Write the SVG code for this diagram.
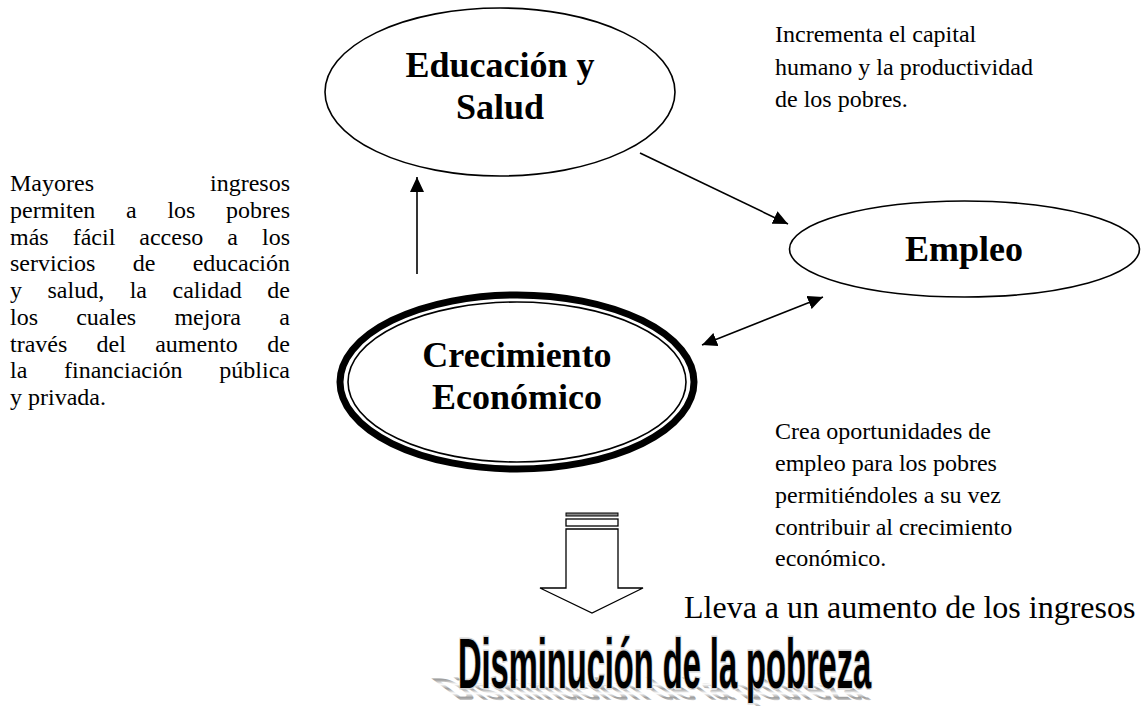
<svg xmlns="http://www.w3.org/2000/svg" xmlns:xlink="http://www.w3.org/1999/xlink" width="1141" height="706" viewBox="0 0 1141 706">
<style>
.body{font-family:"Liberation Serif","Times New Roman",serif;font-size:24px;fill:#000}
.head{font-family:"Liberation Serif","Times New Roman",serif;font-size:36px;font-weight:bold;fill:#000;text-anchor:middle}
.conn{stroke:#000;stroke-width:1.6;fill:none}
.title{font-family:"Liberation Sans Narrow","Liberation Sans","DejaVu Sans Condensed",sans-serif;font-weight:bold;font-size:70px}
</style>
<defs>
<marker id="ah" viewBox="0 0 15 14" refX="15" refY="7" markerWidth="15" markerHeight="14" markerUnits="userSpaceOnUse" orient="auto-start-reverse">
<path d="M0,0 L15,7 L0,14 z" fill="#000"/>
</marker>
<pattern id="stripes" width="3" height="2" patternUnits="userSpaceOnUse">
<rect width="3" height="2" fill="#ffffff"/>
<rect width="3" height="1" fill="#9a9a9a"/>
</pattern>
</defs>
<rect width="1141" height="706" fill="#fff"/>

<g id="connectors">
<line class="conn" x1="417" y1="274" x2="417" y2="177" marker-end="url(#ah)"/>
<line class="conn" x1="640" y1="153" x2="788" y2="224" marker-end="url(#ah)"/>
<line class="conn" x1="702" y1="345" x2="823" y2="297" marker-start="url(#ah)" marker-end="url(#ah)"/>
</g>

<g id="educacion-salud">
<ellipse cx="500" cy="92" rx="175" ry="84" fill="#fff" stroke="#000" stroke-width="1.6"/>
<text class="head" x="500" y="77">Educación y</text>
<text class="head" x="500" y="119">Salud</text>
</g>

<g id="empleo">
<ellipse cx="964.5" cy="249" rx="175" ry="48" fill="#fff" stroke="#000" stroke-width="1.6"/>
<text class="head" x="964" y="261">Empleo</text>
</g>

<g id="crecimiento">
<ellipse cx="517" cy="382" rx="177" ry="87" fill="#fff" stroke="#000" stroke-width="7"/>
<ellipse cx="517" cy="382" rx="169" ry="80" fill="none" stroke="#000" stroke-width="1.6"/>
<text class="head" x="517" y="367">Crecimiento</text>
<text class="head" x="517" y="409">Económico</text>
</g>

<g id="text-left" class="body">
<text y="191"><tspan x="10">Mayores</tspan><tspan x="290" text-anchor="end">ingresos</tspan></text>
<text y="217.75"><tspan x="10">permiten</tspan><tspan x="126">a</tspan><tspan x="167.4">los</tspan><tspan x="290" text-anchor="end">pobres</tspan></text>
<text y="244.5"><tspan x="10">más</tspan><tspan x="72.7">fácil</tspan><tspan x="139.3">acceso</tspan><tspan x="227.3">a</tspan><tspan x="290" text-anchor="end">los</tspan></text>
<text y="271.25"><tspan x="10">servicios</tspan><tspan x="132.7">de</tspan><tspan x="290" text-anchor="end">educación</tspan></text>
<text y="298"><tspan x="10">y</tspan><tspan x="47.5">salud,</tspan><tspan x="129.7">la</tspan><tspan x="172.5">calidad</tspan><tspan x="290" text-anchor="end">de</tspan></text>
<text y="324.75"><tspan x="10">los</tspan><tspan x="76.2">cuales</tspan><tspan x="174.4">mejora</tspan><tspan x="290" text-anchor="end">a</tspan></text>
<text y="351.5"><tspan x="10">través</tspan><tspan x="96.6">del</tspan><tspan x="155.2">aumento</tspan><tspan x="290" text-anchor="end">de</tspan></text>
<text y="378.25"><tspan x="10">la</tspan><tspan x="64">financiación</tspan><tspan x="290" text-anchor="end">pública</tspan></text>
<text y="405" x="10">y privada.</text>
</g>

<g id="text-top-right" class="body">
<text x="775" y="42">Incrementa el capital</text>
<text x="775" y="75">humano y la productividad</text>
<text x="775" y="107">de los pobres.</text>
</g>

<g id="text-bottom-right" class="body">
<text x="775" y="439">Crea oportunidades de</text>
<text x="775" y="471">empleo para los pobres</text>
<text x="775" y="503">permitiéndoles a su vez</text>
<text x="775" y="535">contribuir al crecimiento</text>
<text x="775" y="566">económico.</text>
</g>

<g id="block-arrow">
<rect x="566" y="513" width="52" height="3" fill="#888" stroke="#000" stroke-width="1"/>
<rect x="566" y="519" width="52" height="7" fill="#fff" stroke="#000" stroke-width="1.3"/>
<path d="M566,529 L618,529 L618,588 L643,588 L592,613 L540,588 L566,588 Z" fill="#fff" stroke="#000" stroke-width="1.3"/>
</g>

<g id="lleva">
<text class="body" x="684" y="618" style="font-size:32px">Lleva a un aumento de los ingresos</text>
</g>

<g id="disminucion">
<use xlink:href="#titleText" href="#titleText" transform="matrix(1,0,0.6,0.45,-412.8,390.4)" fill="url(#stripes)" stroke="none"/>
<g fill="#000" stroke="#d6d6d6" stroke-width="3">
<text id="titleText" class="title" x="0" y="0" transform="translate(458,688) scale(0.466,1)" paint-order="stroke">Disminución de la pobreza</text>
</g>
</g>
</svg>
